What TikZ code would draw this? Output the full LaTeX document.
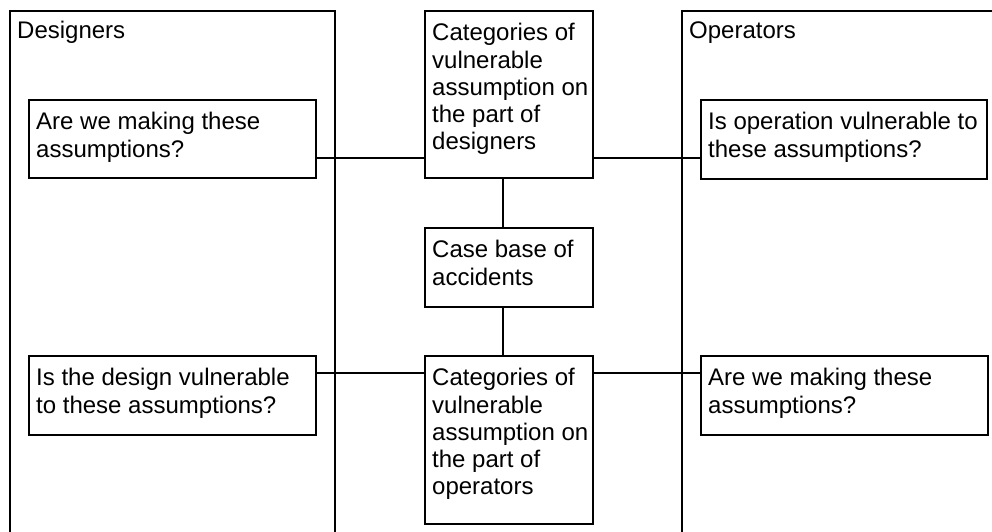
\documentclass[tikz,border=0pt]{standalone}
\usepackage{fontspec}
\setmainfont{Liberation Sans}
\begin{document}
\begin{tikzpicture}[x=1pt,y=-1pt,
  box/.style={draw, line width=1.6pt, inner sep=0pt, anchor=north west},
  txt/.style={inner sep=0pt, align=left, anchor=north west,
    font=\fontsize{24}{27.3}\selectfont},
  link/.style={line width=1.6pt}]
\useasboundingbox (0,0) rectangle (992,532);
\fill[white] (0,0) rectangle (992,532);
% groups (cut off at the page edges)
\node[box, minimum width=325pt, minimum height=560pt,
  label={[txt, xshift=8pt, yshift=-8.9pt]north west:{\strut Designers}}] (des) at (9,10) {};
\node[box, minimum width=340pt, minimum height=560pt,
  label={[txt, xshift=8pt, yshift=-8.9pt]north west:{\strut Operators}}] (ope) at (681,10) {};
% boxes
\node[box, minimum width=287pt, minimum height=78pt,
  label={[txt, xshift=8pt, yshift=-11.4pt]north west:{\strut Are we making these\\assumptions?}}] (q1) at (28,99) {};
\node[box, minimum width=168pt, minimum height=167pt,
  label={[txt, xshift=8pt, yshift=-11.4pt]north west:{\strut Categories of\\vulnerable\\assumption on\\the part of\\designers}}] (cd) at (424,10) {};
\node[box, minimum width=286pt, minimum height=79pt,
  label={[txt, xshift=8pt, yshift=-11.4pt]north west:{\strut Is operation vulnerable to\\these assumptions?}}] (q2) at (700,99) {};
\node[box, minimum width=168pt, minimum height=79pt,
  label={[txt, xshift=8pt, yshift=-11.4pt]north west:{\strut Case base of\\accidents}}] (cb) at (424,227) {};
\node[box, minimum width=287pt, minimum height=79pt,
  label={[txt, xshift=8pt, yshift=-11.4pt]north west:{\strut Is the design vulnerable\\to these assumptions?}}] (q3) at (28,355) {};
\node[box, minimum width=168pt, minimum height=168pt,
  label={[txt, xshift=8pt, yshift=-11.4pt]north west:{\strut Categories of\\vulnerable\\assumption on\\the part of\\operators}}] (co) at (424,355) {};
\node[box, minimum width=287pt, minimum height=79pt,
  label={[txt, xshift=8pt, yshift=-11.4pt]north west:{\strut Are we making these\\assumptions?}}] (q4) at (700,355) {};
% connectors
\draw[link] (q1.east |- 0,158) -- (cd.west |- 0,158);
\draw[link] (cd.east |- 0,158) -- (q2.west |- 0,158);
\draw[link] (cd.south -| 503,0) -- (cb.north -| 503,0);
\draw[link] (cb.south -| 503,0) -- (co.north -| 503,0);
\draw[link] (q3.east |- 0,373) -- (co.west |- 0,373);
\draw[link] (co.east |- 0,373) -- (q4.west |- 0,373);
\end{tikzpicture}
\end{document}
